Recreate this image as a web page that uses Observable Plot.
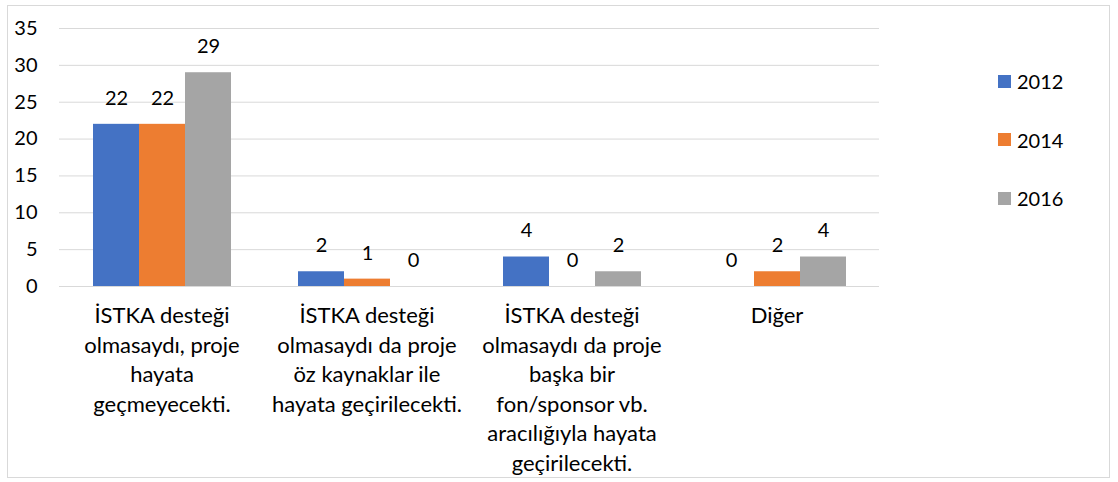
<!DOCTYPE html>
<html>
<head>
<meta charset="utf-8">
<script src="https://cdn.jsdelivr.net/npm/d3@7"></script>
<script src="https://cdn.jsdelivr.net/npm/@observablehq/plot@0.6"></script>
<style>
  html, body { margin: 0; padding: 0; background: #fff; }
  #wrap { position: relative; width: 1118px; height: 482px; font-family: Lato, "Open Sans", sans-serif; }
  #frame { position: absolute; left: 7px; top: 5px; width: 1103px; height: 473px; border: 1px solid #D9D9D9; box-sizing: border-box; }
  #chart { position: absolute; left: 0; top: 0; }
  .leg { position: absolute; display: flex; align-items: center; font-size: 20px; color: #000; }
  .leg span.sw { display: inline-block; width: 13px; height: 13px; margin-right: 6px; }
</style>
</head>
<body>
<div id="wrap">
  <div id="frame"></div>
  <div id="chart"></div>
</div>
<script>
const categories = [
  "İSTKA desteği\nolmasaydı, proje\nhayata\ngeçmeyecekti.",
  "İSTKA desteği\nolmasaydı da proje\nöz kaynaklar ile\nhayata geçirilecekti.",
  "İSTKA desteği\nolmasaydı da proje\nbaşka bir\nfon/sponsor vb.\naracılığıyla hayata\ngeçirilecekti.",
  "Diğer"
];
const years = ["2012", "2014", "2016"];
const values2012 = [22, 2, 4, 0];
const values2014 = [22, 1, 0, 2];
const values2016 = [29, 0, 2, 4];
const colors = ["#4472C4", "#ED7D31", "#A5A5A5"];
const yTicks = [0, 5, 10, 15, 20, 25, 30, 35];

const seriesValues = [values2012, values2014, values2016];
const data = [];
categories.forEach((c, i) => {
  years.forEach((y, j) => {
    data.push({category: c, year: y, value: seriesValues[j][i]});
  });
});

const chart = Plot.plot({
  width: 900,
  height: 482,
  marginLeft: 57,
  marginRight: 20,
  marginTop: 28,
  marginBottom: 196,
  style: {fontFamily: "Lato, 'Open Sans', sans-serif", fontSize: "20px", color: "#000", background: "transparent"},
  fx: {domain: categories, paddingInner: 0, paddingOuter: 0, label: null},
  x: {domain: years, paddingInner: 0, paddingOuter: 0.72, axis: null},
  y: {domain: [0, 35], label: null},
  color: {domain: years, range: colors},
  marks: [
    Plot.ruleY(yTicks, {stroke: "#D9D9D9", strokeWidth: 1}),
    Plot.barY(data, {fx: "category", x: "year", y: "value", fill: "year"}),
    Plot.text(data, {fx: "category", x: "year", y: "value", text: d => String(d.value), dy: -26, fontSize: 20, fill: "#000"}),
    Plot.axisY(yTicks, {tickSize: 0, tickPadding: 22, fontSize: 20, label: null, fill: "#000"}),
    Plot.axisFx({anchor: "bottom", tickSize: 0, tickPadding: 16, fontSize: 22, lineHeight: 1.34, label: null, fill: "#000"})
  ]
});
document.getElementById("chart").appendChild(chart);

const wrap = document.getElementById("wrap");
years.forEach((y, j) => {
  const d = document.createElement("div");
  d.className = "leg";
  d.style.left = "998px";
  d.style.top = (81 + j * 58.5 - 12) + "px";
  d.style.height = "24px";
  d.innerHTML = `<span class="sw" style="background:${colors[j]}"></span>${y}`;
  wrap.appendChild(d);
});
</script>
</body>
</html>
